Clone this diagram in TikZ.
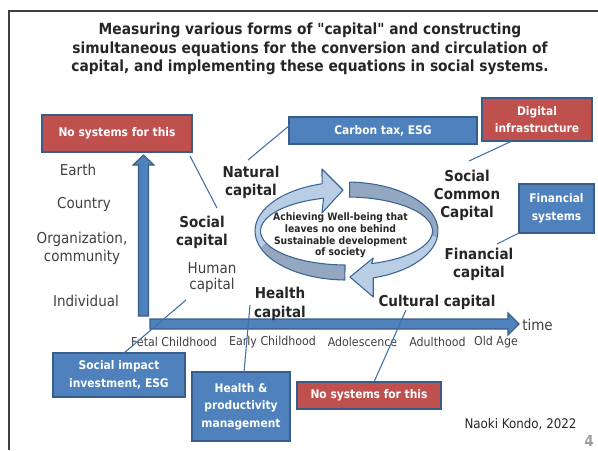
\documentclass[tikz,border=0pt]{standalone}
\usepackage{fontspec}
\setmainfont[FakeStretch=0.9]{DejaVu Sans}
\newfontfamily\qfont[FakeStretch=0.9]{DejaVu Sans}
\definecolor{bfill}{HTML}{4F81BD}
\definecolor{bline}{HTML}{385D8A}
\definecolor{rfill}{HTML}{C0504D}
\definecolor{conn}{HTML}{3F6FA8}
\definecolor{txt}{HTML}{262626}
\definecolor{txtg}{HTML}{404040}
\definecolor{ringL}{HTML}{B9CDE5}
\definecolor{ringD}{HTML}{93A7C1}
\definecolor{ringE}{HTML}{3B6496}
\begin{document}
\begin{tikzpicture}[x=0.75pt,y=-0.75pt,
 every node/.style={inner sep=0pt, outer sep=0pt},
 box/.style={draw=bline, line width=0.9pt, text=white, font=\fontsize{8.9}{13.3}\selectfont\bfseries, align=center},
 bluebox/.style={box, fill=bfill},
 redbox/.style={box, fill=rfill},
 lab/.style={text=txt, font=\fontsize{11.25}{13.5}\selectfont\bfseries, align=center},
 lev/.style={text=txtg, font=\fontsize{11.25}{13}\selectfont, align=center},
 stage/.style={text=txtg, font=\fontsize{9.2}{11}\selectfont},
 connector/.style={draw=conn, line width=0.8pt},
 bigarrow/.style={fill=bfill, draw=bline, line width=0.8pt, line join=miter},
 ringedge/.style={draw=ringE, line width=0.8pt, line join=round},
]
\useasboundingbox (0,0) rectangle (598,450);
% frame
\draw[line width=1.2pt, draw=txtg] (9,450) -- (9,11) -- (598,11);
% title
\node[font=\fontsize{11.5}{13.9}\selectfont\bfseries, text=txt, align=center] (title) at (310,49)
 {Measuring various forms of {\qfont\bfseries"}capital{\qfont\bfseries"} and constructing\\simultaneous equations for the conversion and circulation of\\capital, and implementing these equations in social systems.};
% big arrows
\draw[bigarrow] (138.5,316) -- (138.5,165) -- (133,165) -- (143.5,155) -- (154,165) -- (148.5,165) -- (148.5,316) -- cycle;
\draw[bigarrow] (150,319) -- (508,319) -- (508,313) -- (519,324) -- (508,335) -- (508,329) -- (150,329) -- cycle;
% circular arrows
\begin{scope}[shift={(346.5,231)}]
 % arrow 1 (left, head at top)
 \fill[ringD] (91:91.5 and 49) arc[start angle=91, end angle=160, x radius=91.5, y radius=49]
   -- (160:86 and 34) arc[start angle=160, end angle=91, x radius=86, y radius=34] -- cycle;
 \fill[ringL] (160:91.5 and 49) arc[start angle=160, end angle=254.5, x radius=91.5, y radius=49]
   -- (-24.5,-62) -- (-3.5,-41) -- (-24.5,-18) -- (254.5:86 and 34)
   arc[start angle=254.5, end angle=160, x radius=86, y radius=34] -- cycle;
 \draw[ringedge] (91:91.5 and 49) arc[start angle=91, end angle=254.5, x radius=91.5, y radius=49]
   -- (-24.5,-62) -- (-3.5,-41) -- (-24.5,-18) -- (254.5:86 and 34)
   arc[start angle=254.5, end angle=91, x radius=86, y radius=34] -- cycle;
 % arrow 2 (right, head at bottom)
 \fill[ringD] (272:91.5 and 49) arc[start angle=272, end angle=368, x radius=91.5, y radius=49]
   -- (368:86 and 34) arc[start angle=368, end angle=272, x radius=86, y radius=34] -- cycle;
 \fill[ringL] (368:91.5 and 49) arc[start angle=368, end angle=433, x radius=91.5, y radius=49]
   -- (26.75,66) -- (3.5,46) -- (26.75,27) -- (433:86 and 34)
   arc[start angle=433, end angle=368, x radius=86, y radius=34] -- cycle;
 \draw[ringedge] (272:91.5 and 49) arc[start angle=272, end angle=433, x radius=91.5, y radius=49]
   -- (26.75,66) -- (3.5,46) -- (26.75,27) -- (433:86 and 34)
   arc[start angle=433, end angle=272, x radius=86, y radius=34] -- cycle;
\end{scope}
\node[font=\fontsize{7.7}{8.8}\selectfont\bfseries, text=txt, align=center] (goal) at (340.5,235.5)
 {Achieving Well-being that\\leaves no one behind\\Sustainable development\\of society};
% boxes
\node[redbox, minimum width=112.5pt, minimum height=27.75pt] (redTL) at (117,133.5) {No systems for this};
\node[bluebox, minimum width=141pt, minimum height=20.25pt] (carbon) at (383,130.5) {Carbon tax, ESG};
\node[redbox, minimum width=82.5pt, minimum height=32.25pt] (digital) at (537,119.5) {Digital\\infrastructure};
\node[bluebox, minimum width=56.25pt, minimum height=36.75pt] (financial) at (556.5,208.5) {Financial\\systems};
\node[bluebox, minimum width=99pt, minimum height=33pt] (socimp) at (119,375) {Social impact\\investment, ESG};
\node[bluebox, minimum width=73.5pt, minimum height=51.75pt] (healthbox) at (241,406.5) {Health \&\\productivity\\management};
\node[redbox, minimum width=108pt, minimum height=20.25pt] (redB) at (369,395.5) {No systems for this};
% labels
\node[lev] (earth) at (78,170) {Earth};
\node[lev] (country) at (84,204) {Country};
\node[lev] (org) at (82,248.5) {Organization,\\community};
\node[lev] (indiv) at (86,301) {Individual};
\node[lab] (natural) at (251,182) {Natural\\capital};
\node[lab] (social) at (202,232) {Social\\capital};
\node[lev, font=\fontsize{11.25}{12}\selectfont] (human) at (212,278) {Human\\capital};
\node[lab, font=\fontsize{11.25}{14.2}\selectfont\bfseries] (health) at (280,303.5) {Health\\capital};
\node[lab] (scc) at (467,195) {Social\\Common\\Capital};
\node[lab] (fincap) at (479,264.5) {Financial\\capital};
\node[lab] (cultural) at (437,302) {Cultural capital};
\node[lev] (time) at (537.5,325) {time};
\node[stage] (s1) at (174,342) {Fetal Childhood};
\node[stage] (s2) at (272.5,342) {Early Childhood};
\node[stage] (s3) at (362.5,342) {Adolescence};
\node[stage] (s4) at (437.5,342) {Adulthood};
\node[stage] (s5) at (496,342) {Old Age};
\node[font=\fontsize{9.9}{12}\selectfont, text=txt] (author) at (520.5,424) {Naoki Kondo, 2022};
\node[font=\fontsize{11.3}{13}\selectfont\bfseries, text=gray!75] (page) at (589,440.5) {4};
% connectors
\coordinate (e1) at (217,208);
\coordinate (e2) at (248,160);
\coordinate (e3) at (469,161);
\coordinate (e4) at (497,244);
\coordinate (e5) at (186,300);
\coordinate (e6) at (250,305);
\coordinate (e7) at (406,310);
\draw[connector] ([shift={(-2,4)}]redTL.south east) -- (e1);
\draw[connector] ([shift={(1,-5.5)}]carbon.west) -- (e2);
\draw[connector] ([shift={(-25,0)}]digital.south) -- (e3);
\draw[connector] (financial.south west) -- (e4);
\draw[connector] ([shift={(5,0)}]socimp.north) -- (e5);
\draw[connector] ([shift={(3,0)}]healthbox.north) -- (e6);
\draw[connector] ([shift={(5,0)}]redB.north) -- (e7);
\end{tikzpicture}
\end{document}
